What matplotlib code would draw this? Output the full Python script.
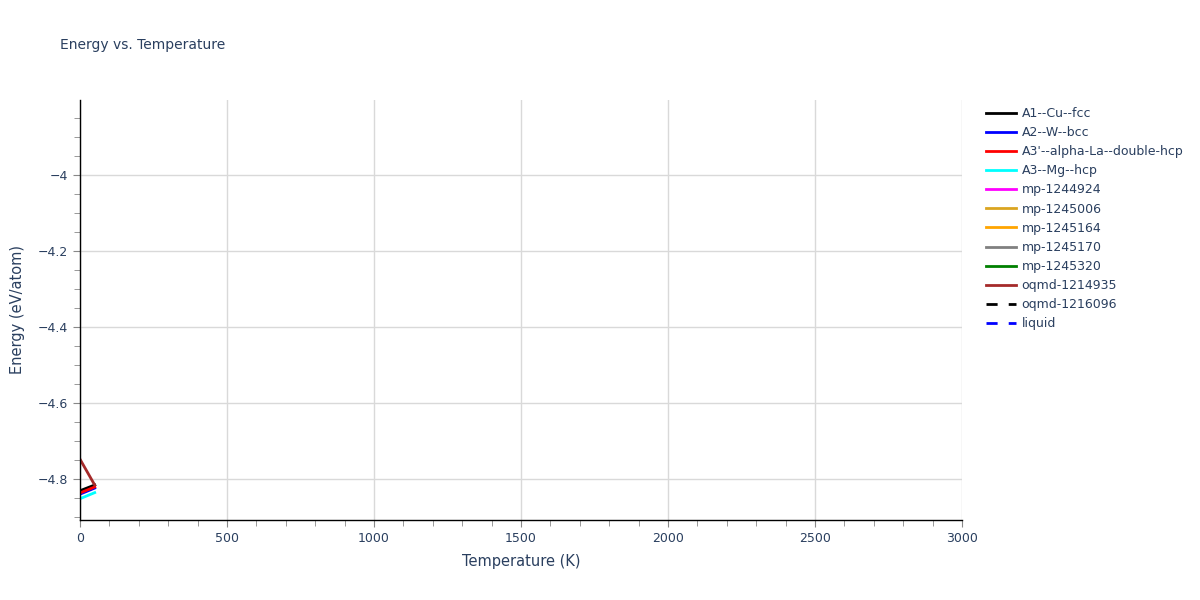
import matplotlib.pyplot as plt
from matplotlib.ticker import MultipleLocator

# ─── data ───────────────────────────────────────────────────────────────────
temps = [0, 50]

names = [
    "A1--Cu--fcc", "A2--W--bcc", "A3'--alpha-La--double-hcp", "A3--Mg--hcp",
    "mp-1244924", "mp-1245006", "mp-1245164", "mp-1245170", "mp-1245320",
    "oqmd-1214935", "oqmd-1216096", "liquid",
]
colors = [
    "black", "blue", "red", "cyan", "magenta", "goldenrod", "orange",
    "gray", "green", "brown", "black", "blue",
]
styles = ["-"] * 10 + [(0, (4, 4)), (0, (4, 4))]

e_cu_fcc = [-4.831, -4.816]
e_w_bcc = [-4.840, -4.824]
e_la_dhcp = [-4.837, -4.821]
e_mg_hcp = [-4.852, -4.836]
e_oqmd_1214935 = [-4.748, -4.816]
empty = []  # these series show no visible line in the reference

energies = [
    e_cu_fcc, e_w_bcc, e_la_dhcp, e_mg_hcp,
    empty, empty, empty, empty, empty,
    e_oqmd_1214935, empty, empty,
]

TXT = "#2a3f5f"
GRID = "#d9d9d9"

fig = plt.figure(figsize=(12, 6), dpi=100, facecolor="white")
ax = fig.add_axes([80 / 1200, 80 / 600, 882 / 1200, 420 / 600])

for name, c, ls, e in zip(names, colors, styles, energies):
    x = temps if e else []
    ax.plot(x, e, color=c, linestyle=ls, linewidth=2, label=name)

ax.set_xlim(0, 3000)
ax.set_ylim(-4.908, -3.803)
ax.xaxis.set_major_locator(MultipleLocator(500))
ax.xaxis.set_minor_locator(MultipleLocator(100))
ax.yaxis.set_major_locator(MultipleLocator(0.2))
ax.yaxis.set_minor_locator(MultipleLocator(0.05))
ax.yaxis.set_major_formatter(lambda v, p: f"{v:g}".replace("-", "\u2212"))

ax.grid(True, which="major", color=GRID, linewidth=1)
ax.set_axisbelow(True)
for s in ["top", "right"]:
    ax.spines[s].set_visible(False)
for s in ["left", "bottom"]:
    ax.spines[s].set_color("black")
    ax.spines[s].set_linewidth(1)

ax.tick_params(which="major", length=5, color="#888888", labelsize=9,
               labelcolor=TXT, direction="out")
ax.tick_params(which="minor", length=4, color="#888888", direction="out")
ax.tick_params(axis="x", pad=4)

ax.set_xlabel("Temperature (K)", fontsize=10.5, color=TXT, labelpad=6)
ax.set_ylabel("Energy (eV/atom)", fontsize=10.5, color=TXT, labelpad=22)
ax.yaxis.set_label_coords(-55 / 882, 0.5)

fig.text(60 / 1200, 1 - 45 / 600, "Energy vs. Temperature",
         fontsize=10, color=TXT, va="center", ha="left")

leg = ax.legend(loc="upper left", bbox_to_anchor=(986 / 1200, 1 - 107 / 600),
                bbox_transform=fig.transFigure, frameon=False, fontsize=9,
                handlelength=2.4, handletextpad=0.45, labelspacing=0.49,
                borderaxespad=0, borderpad=0)
for t in leg.get_texts():
    t.set_color(TXT)

fig.savefig("out.png", dpi=100, facecolor="white")
